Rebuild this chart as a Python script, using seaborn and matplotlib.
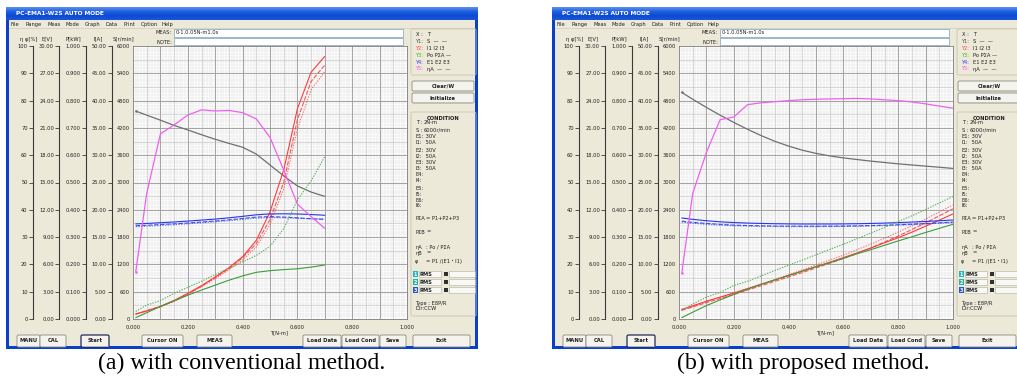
import numpy as np
import matplotlib
matplotlib.use("Agg")
import matplotlib.pyplot as plt
from matplotlib.patches import Rectangle, FancyBboxPatch
from matplotlib.colors import LinearSegmentedColormap
import seaborn as sns

# ---------------------------------------------------------------- data
# conventional method: torque sweep 0 - 0.7 N-m
conv_torque = [0.01, 0.05, 0.10, 0.15, 0.20, 0.25, 0.30, 0.35, 0.40, 0.45,
               0.50, 0.55, 0.60, 0.65, 0.70]
conv_speed = [4570, 4480, 4370, 4255, 4155, 4050, 3950, 3860, 3775, 3625,
              3385, 3145, 2925, 2790, 2695]                      # r/min
conv_eta = [17.3, 46.0, 67.8, 71.1, 74.7, 76.6, 76.2, 76.4, 75.6, 73.3,
            66.5, 54.6, 42.1, 37.5, 33.2]                        # %
conv_e1 = [10.45, 10.50, 10.58, 10.66, 10.76, 10.87, 10.98, 11.12, 11.28, 11.45,
           11.55, 11.56, 11.54, 11.48, 11.40]                    # V
conv_e2 = [10.25, 10.30, 10.38, 10.46, 10.55, 10.66, 10.77, 10.90, 11.05, 11.20,
           11.25, 11.20, 11.12, 11.02, 10.95]
conv_e3 = [10.15, 10.20, 10.28, 10.36, 10.46, 10.57, 10.68, 10.80, 10.94, 11.08,
           11.15, 11.12, 11.06, 11.00, 10.98]
conv_i1 = [0.9, 1.5, 2.3, 3.4, 4.7, 6.1, 7.7, 9.4, 11.4, 14.4,
           19.6, 27.3, 38.5, 45.2, 48.1]                         # A
conv_i2 = [0.9, 1.5, 2.3, 3.3, 4.6, 6.0, 7.6, 9.2, 11.2, 13.8,
           18.2, 25.0, 36.5, 43.5, 46.5]
conv_i3 = [0.9, 1.4, 2.2, 3.2, 4.5, 5.9, 7.4, 9.0, 10.8, 13.2,
           17.3, 23.8, 34.8, 42.0, 45.3]
conv_po = [0.005, 0.023, 0.046, 0.067, 0.087, 0.106, 0.124, 0.142, 0.158, 0.171,
           0.177, 0.181, 0.184, 0.190, 0.198]                    # kW
conv_psum = [0.028, 0.051, 0.067, 0.094, 0.116, 0.138, 0.163, 0.185, 0.209, 0.233,
             0.266, 0.331, 0.436, 0.506, 0.595]

# proposed method: torque sweep 0 - 1.0 N-m
prop_torque = [0.01, 0.05, 0.10, 0.15, 0.20, 0.25, 0.30, 0.35, 0.40, 0.45,
               0.50, 0.55, 0.60, 0.65, 0.70, 0.75, 0.80, 0.85, 0.90, 0.95, 1.00]
prop_speed = [4980, 4830, 4650, 4480, 4320, 4170, 4030, 3905, 3800, 3710,
              3640, 3585, 3540, 3505, 3470, 3440, 3410, 3385, 3360, 3335, 3310]
prop_eta = [16.7, 46.0, 61.0, 73.0, 74.0, 78.5, 79.2, 79.6, 80.0, 80.3,
            80.5, 80.6, 80.7, 80.8, 80.6, 80.3, 80.0, 79.5, 78.8, 78.0, 77.2]
prop_e1 = [11.10, 10.95, 10.80, 10.68, 10.60, 10.54, 10.50, 10.47, 10.45, 10.44,
           10.44, 10.44, 10.45, 10.47, 10.50, 10.54, 10.59, 10.65, 10.72, 10.80, 10.88]
prop_e2 = [10.75, 10.62, 10.50, 10.40, 10.32, 10.27, 10.24, 10.22, 10.21, 10.20,
           10.20, 10.21, 10.22, 10.24, 10.27, 10.31, 10.36, 10.42, 10.49, 10.57, 10.66]
prop_e3 = [10.65, 10.52, 10.40, 10.31, 10.25, 10.21, 10.18, 10.16, 10.15, 10.15,
           10.15, 10.16, 10.17, 10.19, 10.22, 10.26, 10.31, 10.37, 10.44, 10.52, 10.60]
prop_i1 = [1.75, 2.4, 3.25, 4.0, 4.75, 5.55, 6.35, 7.15, 8.0, 8.8,
           9.6, 10.4, 11.25, 12.1, 13.0, 13.95, 14.9, 15.9, 17.0, 18.1, 19.25]
prop_i2 = [1.6, 2.2, 3.0, 3.75, 4.5, 5.3, 6.1, 6.9, 7.7, 8.5,
           9.35, 10.2, 11.1, 12.0, 13.0, 14.1, 15.2, 16.4, 17.6, 18.9, 20.2]
prop_i3 = [1.7, 2.4, 3.2, 4.0, 4.8, 5.6, 6.4, 7.25, 8.1, 9.0,
           9.9, 10.8, 11.7, 12.7, 13.7, 14.8, 15.9, 17.1, 18.3, 19.6, 20.9]
prop_po = [0.005, 0.025, 0.049, 0.070, 0.090, 0.109, 0.127, 0.143, 0.159, 0.175,
           0.191, 0.206, 0.222, 0.239, 0.254, 0.270, 0.286, 0.301, 0.317, 0.332, 0.347]
prop_psum = [0.031, 0.055, 0.080, 0.097, 0.123, 0.138, 0.158, 0.178, 0.197, 0.216,
             0.235, 0.255, 0.274, 0.294, 0.315, 0.335, 0.357, 0.378, 0.401, 0.425, 0.449]

captions = ["(a) with conventional method.", "(b) with proposed method."]

scale_heads = ["η φ[%]", "E[V]", "P[kW]", "I[A]", "S[r/min]"]
menu_items = ["File", "Range", "Meas", "Mode", "Graph", "Data", "Print", "Option", "Help"]
bottom_buttons = ["MANU", "CAL", "Start", "Cursor ON", "MEAS",
                  "Load Data", "Load Cond", "Save", "Exit"]

# ---------------------------------------------------------------- style
sns.set_theme(style="white")
plt.rcParams["font.family"] = ["DejaVu Sans", "Noto Sans CJK JP"]

W, H = 1017, 376
BEIGE = "#ece9d8"
GREY, MAG = "#707070", "#f060f0"
BLUE, RED, GREEN = "#2838e8", "#ff3a3a", "#3c9c3c"
UI = "#202020"
FS = 3.7

fig = plt.figure(figsize=(W / 100, H / 100), dpi=100)
bg = fig.add_axes([0, 0, 1, 1])
bg.axis("off")

title_cmap = LinearSegmentedColormap.from_list("tb", ["#5a8ef0", "#1f5fe0", "#0b4ad4", "#1c55d8"])


def box(x0, y0, x1, y1):
    return fig.add_axes([x0 / W, 1 - y1 / H, (x1 - x0) / W, (y1 - y0) / H])


def rect(x0, y0, x1, y1, **kw):
    bg.add_patch(Rectangle((x0, y0), x1 - x0, y1 - y0, **kw))


def rbox(x0, y0, x1, y1, **kw):
    bg.add_patch(FancyBboxPatch((x0, y0), x1 - x0, y1 - y0,
                                boxstyle="round,pad=0,rounding_size=1.5", **kw))


def txt(x, y, s, **kw):
    kw.setdefault("fontsize", FS)
    kw.setdefault("color", UI)
    kw.setdefault("va", "center")
    bg.text(x, y, s, **kw)


def button(x0, y0, x1, y1, label, strong=False):
    rbox(x0, y0, x1, y1, facecolor="#f4f3ee", edgecolor="#1e2c58" if strong else "#8c8a80",
         lw=0.9 if strong else 0.6, zorder=2)
    bg.plot([x0 + 1, x1 - 1], [y1 - 0.6, y1 - 0.6], color="#c4c2b4", lw=0.6, zorder=2)
    txt((x0 + x1) / 2, (y0 + y1) / 2, label, ha="center", fontweight="bold", fontsize=3.8, zorder=3)


def draw_window(dx, t, S, eta, e_list, i_list, po, psum, caption, cap_x):
    # frame, title bar and client area
    rect(dx + 6, 7, dx + 478, 349, facecolor="#0a3fcc", edgecolor="none", zorder=1)
    bg.imshow(np.linspace(0, 1, 16)[:, None], extent=(dx + 6, dx + 478, 20, 7),
              cmap=title_cmap, aspect="auto", interpolation="bilinear", zorder=1)
    rect(dx + 9, 20, dx + 475, 346, facecolor=BEIGE, edgecolor="none", zorder=1)
    txt(dx + 16, 13.8, "PC-EMA1-W2S AUTO MODE", color="white", fontsize=4.2,
        fontweight="bold", zorder=3)
    for name, x in zip(menu_items, [10.7, 25, 47, 66, 85, 105, 123, 141, 162]):
        txt(dx + x, 24.2, name, fontsize=3.7, zorder=3)
    rect(dx + 9, 28, dx + 475, 28.5, facecolor="#d8d4c4", edgecolor="none", zorder=2)

    for name, x in zip(scale_heads, [20, 42, 66, 94, 113]):
        txt(dx + x, 39, name, fontsize=3.8, zorder=3)

    txt(dx + 172, 33, "MEAS:", ha="right", zorder=3)
    txt(dx + 172, 42, "NOTE:", ha="right", zorder=3)
    rect(dx + 174, 29, dx + 403, 37, facecolor="white", edgecolor="#7f9db9", lw=0.5, zorder=2)
    rect(dx + 174, 38.3, dx + 403, 45.3, facecolor="white", edgecolor="#7f9db9", lw=0.5, zorder=2)
    txt(dx + 176, 33, "0-1.0.05N-m1.0s", zorder=3)

    # ---- main chart (speed on the base axis, other quantities on twins)
    ax = box(dx + 133, 46, dx + 407, 319)
    ax.set_facecolor("white")
    for lv, col, lw in [(0.01, "#e2e2e2", 0.35), (0.05, "#c8c8c8", 0.45), (0.1, "#9c9c9c", 0.6)]:
        ax.vlines(np.arange(lv, 1.0, lv), 0, 6000, colors=col, lw=lw, zorder=0.5)
        ax.hlines(np.arange(lv, 1.0, lv) * 6000, 0, 1, colors=col, lw=lw, zorder=0.5)
    sns.lineplot(x=t, y=S, ax=ax, color=GREY, lw=0.9, marker="o", markersize=1.8,
                 markevery=[0], markeredgewidth=0, zorder=3, legend=False)
    ax.set_xlim(0, 1)
    ax.set_ylim(0, 6000)
    ax.set_xticks(np.arange(0, 1.01, 0.2))
    ax.set_xticklabels([f"{v:.3f}" for v in np.arange(0, 1.01, 0.2)])
    ax.set_yticks(np.arange(0, 6001, 600))
    ax.set_yticklabels([f"{v:d}" for v in range(0, 6001, 600)])
    ax.tick_params(axis="both", length=0, labelsize=FS, colors=UI)
    ax.tick_params(axis="x", pad=4.5)
    ax.tick_params(axis="y", pad=2.2)
    ax.set_xlabel("")
    ax.set_ylabel("")
    for sp in ax.spines.values():
        sp.set_color("#7c7c7c")
        sp.set_linewidth(0.6)

    def twin(lim):
        tw = ax.twinx()
        tw.set_ylim(0, lim)
        tw.axis("off")
        return tw

    t_i, t_e, t_p, t_eta = twin(50), twin(30), twin(1.0), twin(100)
    styles = ["-", (0, (4, 1.5)), (0, (1.2, 1.2))]
    alphas = [1.0, 0.85, 0.7]
    for vals, ls, a in zip(i_list, styles, alphas):
        sns.lineplot(x=t, y=vals, ax=t_i, color=RED, lw=0.8, linestyle=ls, alpha=a, legend=False)
    for vals, ls, a in zip(e_list, styles, alphas):
        sns.lineplot(x=t, y=vals, ax=t_e, color=BLUE, lw=0.8, linestyle=ls, alpha=a, legend=False)
    sns.lineplot(x=t, y=po, ax=t_p, color=GREEN, lw=0.8, legend=False)
    sns.lineplot(x=t, y=psum, ax=t_p, color="#58b058", lw=0.8, linestyle=(0, (1.2, 1.2)), legend=False)
    sns.lineplot(x=t, y=eta, ax=t_eta, color=MAG, lw=0.9, marker="o", markersize=1.8,
                 markevery=[0], markeredgewidth=0, legend=False)
    for tw, lim in [(t_i, 50), (t_e, 30), (t_p, 1.0), (t_eta, 100)]:
        tw.set_ylim(0, lim)
        tw.set_xlim(0, 1)
    txt(dx + 270, 332.5, "T[N-m]", zorder=3)

    # ---- stacked scales on the left
    scales = [(33, 100, 10, "{:d}"), (59.3, 30, 3, "{:.2f}"),
              (86, 1.0, 0.1, "{:.3f}"), (111.7, 50, 5, "{:.2f}")]
    for x, top, step, fmt in scales:
        sa = box(dx + x, 46, dx + x + 0.4, 319)
        sa.patch.set_alpha(0)
        sa.set_ylim(0, top)
        ticks = [k * step for k in range(11)]
        sa.set_yticks(ticks)
        sa.set_yticklabels([fmt.format(int(round(v)) if fmt == "{:d}" else v) for v in ticks])
        sa.set_xticks([])
        for name, sp in sa.spines.items():
            sp.set_visible(name == "left")
        sa.spines["left"].set_color("#3a3a3a")
        sa.spines["left"].set_linewidth(0.8)
        sa.tick_params(axis="y", direction="out", length=3, width=0.6, color="#3a3a3a",
                       labelsize=FS, pad=0.8, labelcolor=UI, left=True)

    # ---- right-hand control panel
    rbox(dx + 411, 29, dx + 476, 75, facecolor="none", edgecolor="#c9c5b2", lw=0.6, zorder=2)
    legend_rows = [("X :", "T", UI), ("Y1:", "S  —  —", "#505050"), ("Y2:", "I1 I2 I3", "#ff4a4a"),
                   ("Y3:", "Po PΣA —", "#3cc03c"), ("Y4:", "E1 E2 E3", "#3c3cff"),
                   ("Y5:", "ηA  —  —", "#ff50ff")]
    for k, (lab, val, col) in enumerate(legend_rows):
        y = 35 + k * 6.8
        txt(dx + 415.5, y, lab, color=col, zorder=3)
        txt(dx + 427, y, val, zorder=3)
    button(dx + 412, 81, dx + 474, 91, "Clear/W")
    button(dx + 412, 93, dx + 474, 103, "Initialize")

    rbox(dx + 411, 112, dx + 476, 316, facecolor="none", edgecolor="#c9c5b2", lw=0.6, zorder=2)
    txt(dx + 443.5, 118, "CONDITION", ha="center", fontweight="bold", zorder=3)
    cond_rows = [("T :", "2N-m", 123), ("S :", "6000r/min", 130), ("E1:", " 30V", 137),
                 ("I1:", " 50A", 143), ("E2:", " 30V", 150.5), ("I2:", " 50A", 156),
                 ("E3:", " 30V", 162.5), ("I3:", " 50A", 169), ("E4:", "", 174.5),
                 ("I4:", "", 181), ("E5:", "", 188.5), ("I5:", "", 194),
                 ("E6:", "", 200), ("I6:", "", 205.5)]
    for lab, val, y in cond_rows:
        txt(dx + 416, y, lab, zorder=3)
        txt(dx + 424, y, val, zorder=3)
    formula_rows = [("PΣA", "= P1+P2+P3", 218), ("PΣB", "=", 232), ("ηA", ": Po / PΣA", 247),
                    ("ηB", "=", 253), ("φ", "= P1 /(E1・I1)", 261)]
    for lab, val, y in formula_rows:
        txt(dx + 415, y, lab, zorder=3)
        txt(dx + 426, y, val, zorder=3)
    for k, col in enumerate(["#28b4c8", "#28b49c", "#2c58c4"]):
        y = 274 + k * 8
        rect(dx + 413, y - 3, dx + 418, y + 3, facecolor=col, edgecolor="none", zorder=2)
        txt(dx + 415.5, y, str(k + 1), ha="center", color="white", fontweight="bold",
            fontsize=3.4, zorder=3)
        rect(dx + 418.5, y - 3, dx + 441, y + 3, facecolor="#f8f8f4", edgecolor="#b0ae9f",
             lw=0.4, zorder=2)
        txt(dx + 420, y, "RMS", fontweight="bold", zorder=3)
        rect(dx + 444, y - 2, dx + 448, y + 2, facecolor="#303030", edgecolor="none", zorder=2)
        rect(dx + 449, y - 3, dx + 475, y + 3, facecolor="#f8f8f4", edgecolor="#b0ae9f",
             lw=0.4, zorder=2)
    txt(dx + 415, 303, "Type : E8P/R", zorder=3)
    txt(dx + 415, 308.5, "Dir:CCW", zorder=3)

    # ---- bottom button row
    spans = [(17, 40), (40, 66), (81, 109), (142, 183), (197, 232),
             (303, 341), (342, 379), (380, 406), (413, 470)]
    for name, (x0, x1) in zip(bottom_buttons, spans):
        button(dx + x0, 335, dx + x1, 347, name, strong=(name == "Start"))

    txt(cap_x, 363, caption, ha="center", fontsize=17.2, family="Liberation Serif",
        color="black", zorder=3)


draw_window(0, conv_torque, conv_speed, conv_eta, [conv_e1, conv_e2, conv_e3],
            [conv_i1, conv_i2, conv_i3], conv_po, conv_psum, captions[0], 242)
draw_window(546, prop_torque, prop_speed, prop_eta, [prop_e1, prop_e2, prop_e3],
            [prop_i1, prop_i2, prop_i3], prop_po, prop_psum, captions[1], 803)

bg.set_xlim(0, W)
bg.set_ylim(H, 0)
fig.savefig("out.png", dpi=100, facecolor="white")
